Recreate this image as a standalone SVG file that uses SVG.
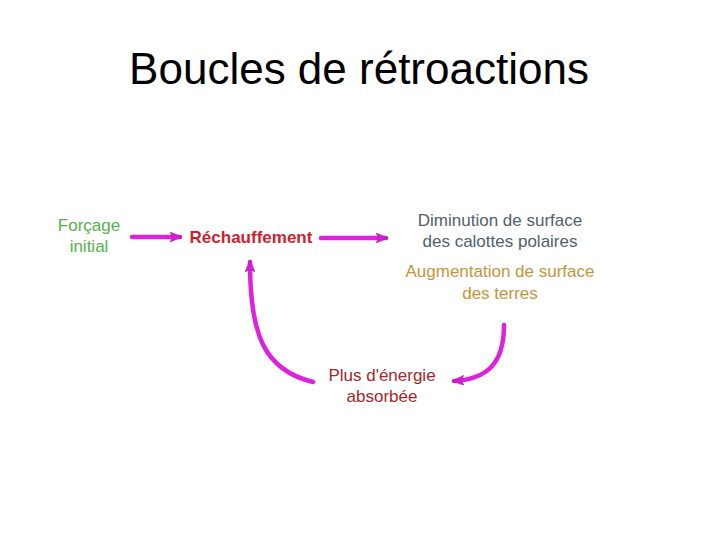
<svg xmlns="http://www.w3.org/2000/svg" width="720" height="540" viewBox="0 0 720 540">
<defs>
<marker id="ah" viewBox="0 0 12 10" refX="10" refY="5" markerWidth="12" markerHeight="10" markerUnits="userSpaceOnUse" orient="auto">
<path d="M0,0 L12,5 L0,10 L3,5 z" fill="#d61fd6" stroke="#b010b0" stroke-width="0.6"/>
</marker>
<style>
.t{font-family:"Liberation Sans",Arial,sans-serif;text-anchor:middle;font-size:17px}
.arr{fill:none;stroke:#dd22dd;stroke-width:4.5;stroke-linecap:round;marker-end:url(#ah)}
</style>
</defs>
<rect width="720" height="540" fill="#ffffff"/>
<text x="359" y="84" font-family="Liberation Sans,Arial,sans-serif" font-size="44" text-anchor="middle" fill="#000">Boucles de rétroactions</text>
<g id="connectors">
<path class="arr" d="M132,237 L180,237"/>
<path class="arr" d="M321,238 L386,238"/>
<path class="arr" d="M313,382 C264,370 250,335 250,262"/>
<path class="arr" d="M504,325 C504,365 486,379 454,381"/>
</g>
<g id="forcage">
<text class="t" x="89" y="231" fill="#55b04f">Forçage</text>
<text class="t" x="89" y="252" fill="#55b04f">initial</text>
</g>
<g id="rechauffement">
<text class="t" x="251" y="243" fill="#cc2230" font-weight="bold">Réchauffement</text>
</g>
<g id="diminution">
<text class="t" x="500" y="226" fill="#4f5f6e">Diminution de surface</text>
<text class="t" x="500" y="247" fill="#4f5f6e">des calottes polaires</text>
</g>
<g id="augmentation">
<text class="t" x="500" y="277" fill="#c4953a">Augmentation de surface</text>
<text class="t" x="500" y="299" fill="#c4953a">des terres</text>
</g>
<g id="energie">
<text class="t" x="382" y="381" fill="#a3282a">Plus d'énergie</text>
<text class="t" x="382" y="402" fill="#a3282a">absorbée</text>
</g>
</svg>
